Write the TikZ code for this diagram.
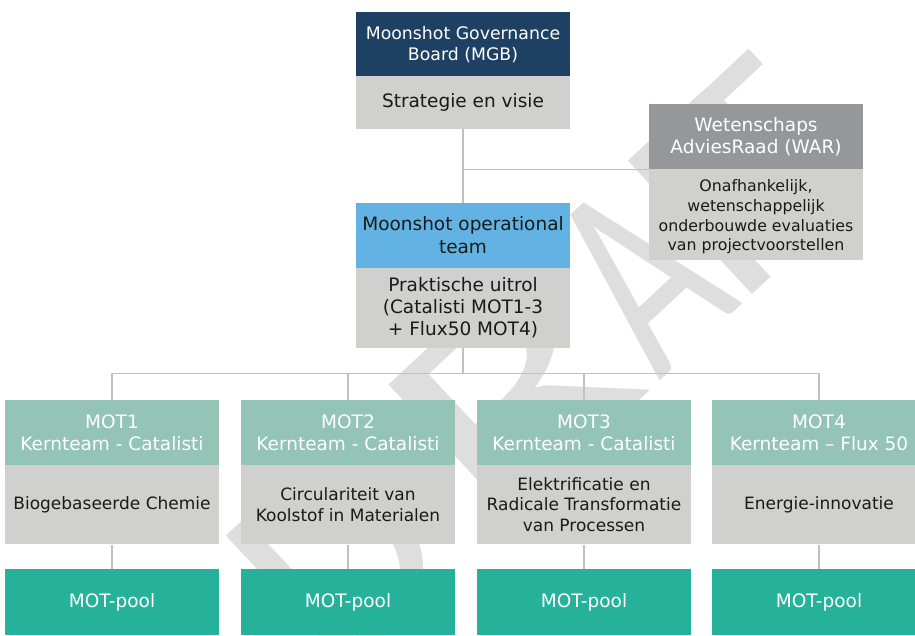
\documentclass[tikz,border=0pt]{standalone}
\usepackage{graphicx}
\usepackage{fontspec}
\setmainfont{DejaVu Sans}
\newfontfamily\wmfont{Carlito}
\definecolor{navy}{RGB}{30,65,99}
\definecolor{skyb}{RGB}{98,179,228}
\definecolor{wargray}{RGB}{149,151,155}
\definecolor{bodygray}{RGB}{208,208,207}
\definecolor{tealhead}{RGB}{147,196,182}
\definecolor{tealpool}{RGB}{38,177,154}
\definecolor{linegray}{RGB}{192,192,192}
\definecolor{wmgray}{RGB}{222,222,222}
\definecolor{ink}{RGB}{26,26,26}
\tikzset{
  box/.style={draw=none, inner sep=0pt, minimum width=214pt, align=center},
  hdr/.style={box, minimum height=65pt, text=white, font=\fontsize{18.5}{22}\selectfont},
  mgbhdr/.style={hdr, fill=navy, font=\fontsize{17.3}{21}\selectfont},
  warhdr/.style={hdr, fill=wargray},
  ophdr/.style={hdr, fill=skyb, text=ink, font=\fontsize{18.5}{22.7}\selectfont},
  mothdr/.style={hdr, fill=tealhead},
  bodybox/.style={box, fill=bodygray, text=ink},
  bigbody/.style={bodybox, font=\fontsize{18.5}{22.4}\selectfont},
  warbody/.style={bodybox, minimum height=90.7pt},
  wartext/.style={inner sep=0pt, align=center, text=ink, font=\fontsize{15.8}{19.7}\selectfont},
  motbody/.style={bodybox, minimum height=79.3pt, font=\fontsize{17}{20.5}\selectfont},
  pool/.style={box, fill=tealpool, minimum height=66pt, text=white, font=\fontsize{18.5}{22}\selectfont},
  conn/.style={draw=linegray, line width=1.4pt},
  wm/.style={inner sep=0pt, text=wmgray, font=\wmfont\fontsize{284}{284}\selectfont}
}
\begin{document}
\begin{tikzpicture}[x=1pt, y=-1pt]
\path[use as bounding box] (0,0) rectangle (915,635);
\clip (0,0) rectangle (915,635);
\fill[white] (0,0) rectangle (915,635);
% watermark
\node[wm, rotate=43, anchor=base west] (wmark) at (336.4,682.9)
  {D\kern37pt\scalebox{1.45}[1]{R}\kern6pt\scalebox{0.7}[1]{A}\kern-6.4pt F\kern-82pt T};
% top
\node[mgbhdr] (mgbh) at (463,44.5) {Moonshot Governance\\Board (MGB)};
\node[bigbody, minimum height=52.7pt] (mgbb) at (463,102.35) {Strategie en visie};
\node[warhdr] (warh) at (756,136.5) {Wetenschaps\\AdviesRaad (WAR)};
\node[warbody] (warb) at (756,214.35) {};
\node[wartext] (warbt) at ([yshift=-2.5pt]warb.center) {Onafhankelijk,\\wetenschappelijk\\onderbouwde evaluaties\\van projectvoorstellen};
\node[ophdr] (oph) at (463,235.35) {Moonshot operational\\team};
\node[bigbody, minimum height=80pt] (opb) at (463,307.7) {Praktische uitrol\\(Catalisti MOT1-3\\+ Flux50 MOT4)};
% MOTs
\node[mothdr] (m1h) at (112,432.5) {MOT1\\Kernteam - Catalisti};
\node[mothdr] (m2h) at (348,432.5) {MOT2\\Kernteam - Catalisti};
\node[mothdr] (m3h) at (584,432.5) {MOT3\\Kernteam - Catalisti};
\node[mothdr] (m4h) at (819,432.5) {MOT4\\Kernteam – Flux 50};
\node[motbody] (m1b) at (112,504.65) {Biogebaseerde Chemie};
\node[motbody] (m2b) at (348,504.65) {Circulariteit van\\Koolstof in Materialen};
\node[motbody] (m3b) at (584,504.65) {Elektrificatie en\\Radicale Transformatie\\van Processen};
\node[motbody] (m4b) at (819,504.65) {Energie-innovatie};
\node[pool] (p1) at (112,602) {MOT-pool};
\node[pool] (p2) at (348,602) {MOT-pool};
\node[pool] (p3) at (584,602) {MOT-pool};
\node[pool] (p4) at (819,602) {MOT-pool};
% connectors
\coordinate (j1) at (mgbb.south |- warh.south west);
\coordinate (bus) at (0,373.3);
\draw[conn] (mgbb.south) -- (oph.north);
\draw[conn] (j1) -- (warh.south west);
\draw[conn] (opb.south) -- (opb.south |- bus);
\draw[conn] (m1h.north) |- (m4h.north |- bus) -- (m4h.north);
\draw[conn] (m2h.north) -- (m2h.north |- bus);
\draw[conn] (m3h.north) -- (m3h.north |- bus);
\draw[conn] (m1b.south) -- (p1.north);
\draw[conn] (m2b.south) -- (p2.north);
\draw[conn] (m3b.south) -- (p3.north);
\draw[conn] (m4b.south) -- (p4.north);
\end{tikzpicture}
\end{document}
